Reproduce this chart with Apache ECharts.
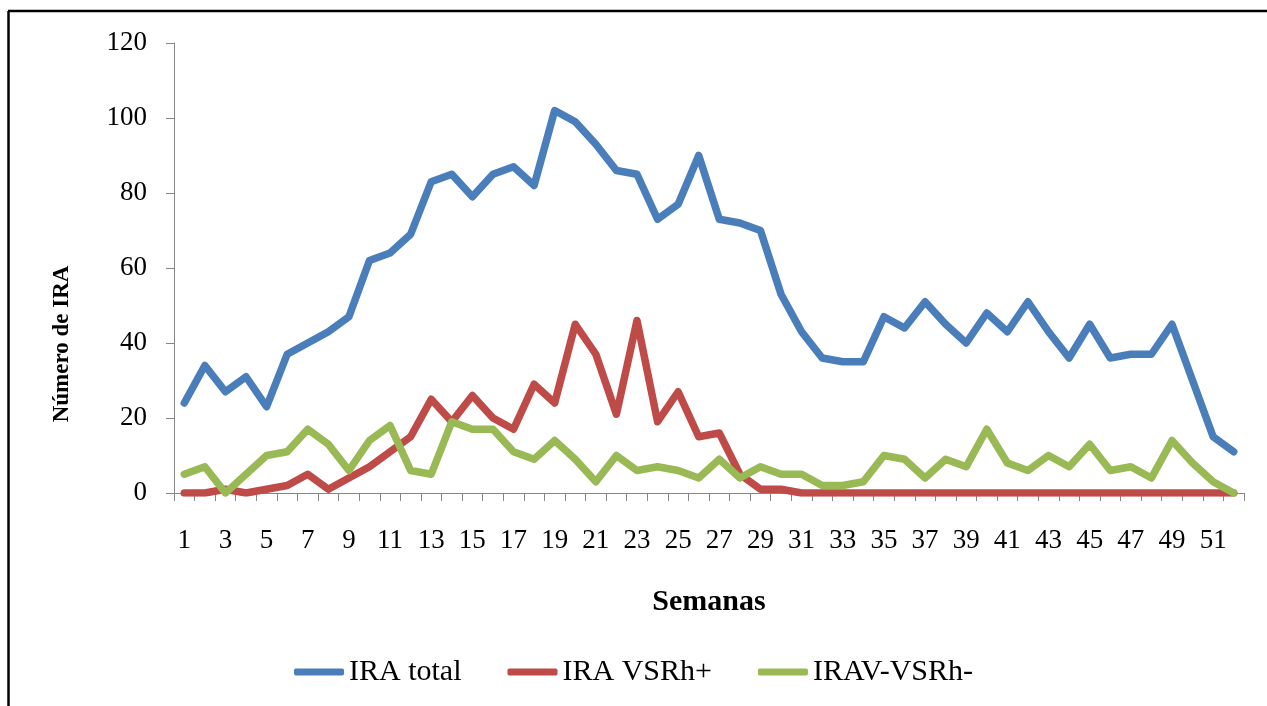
<!DOCTYPE html>
<html>
<head>
<meta charset="utf-8">
<script src="https://cdn.jsdelivr.net/npm/echarts@6/dist/echarts.min.js"></script>
<style>
html,body{margin:0;padding:0;background:#fff;}
#c{width:1267px;height:706px;}
</style>
</head>
<body>
<div id="c"></div>
<script>
var weeks = [];
for (var i = 1; i <= 52; i++) weeks.push(String(i));

var iraTotal = [24,34,27,31,23,37,40,43,47,62,64,69,83,85,79,85,87,82,102,99,
                93,86,85,73,77,90,73,72,70,53,43,36,35,35,47,44,51,45,40,48,
                43,51,43,36,45,36,37,37,45,30,15,11];
var iraVSRhPos = [0,0,1,0,1,2,5,1,4,7,11,15,25,19,26,20,17,29,24,45,
                  37,21,46,19,27,15,16,5,1,1,0,0,0,0,0,0,0,0,0,0,
                  0,0,0,0,0,0,0,0,0,0,0,0];
var iravVSRhNeg = [5,7,0,5,10,11,17,13,6,14,18,6,5,19,17,17,11,9,14,9,
                   3,10,6,7,6,4,9,4,7,5,5,2,2,3,10,9,4,9,7,17,
                   8,6,10,7,13,6,7,4,14,8,3,0];
var seriesNames = ['IRA total', 'IRA VSRh+', 'IRAV-VSRh-'];
var yTicks = [0, 20, 40, 60, 80, 100, 120];

var serif = '"Liberation Serif", "Times New Roman", serif';
var chart = echarts.init(document.getElementById('c'));

function lineSeries(name, data, color) {
  return {
    name: name, type: 'line', data: data, symbol: 'none',
    lineStyle: {width: 7.5, color: color, join: 'round', cap: 'round'},
    itemStyle: {color: color}
  };
}

chart.setOption({
  animation: false,
  backgroundColor: '#fff',
  grid: {left: 174, right: 23, top: 43, bottom: 213, containLabel: false},
  graphic: [
    {type: 'line', shape: {x1: 8, y1: 11, x2: 1267, y2: 11}, style: {stroke: '#000', lineWidth: 2.5}},
    {type: 'line', shape: {x1: 8.5, y1: 11, x2: 8.5, y2: 706}, style: {stroke: '#000', lineWidth: 2.5}},
    {type: 'text', x: 62, y: 344, rotation: Math.PI / 2,
     style: {text: 'Número de IRA', font: 'bold 23px ' + serif, fill: '#000',
             align: 'center', verticalAlign: 'middle'}}
  ],
  legend: {
    bottom: 14, left: 'center',
    itemWidth: 50, itemHeight: 7, itemGap: 46,
    icon: 'roundRect',
    textStyle: {fontFamily: serif, fontSize: 30, color: '#000'},
    data: seriesNames
  },
  xAxis: {
    type: 'category', data: weeks, boundaryGap: true,
    name: 'Semanas', nameLocation: 'middle', nameGap: 94,
    nameTextStyle: {fontFamily: serif, fontSize: 30, fontWeight: 'bold', color: '#000'},
    axisLine: {lineStyle: {color: '#868686', width: 1}},
    axisTick: {show: true, interval: 0, length: 8, lineStyle: {color: '#868686'}},
    axisLabel: {interval: 1, margin: 34, fontFamily: serif, fontSize: 27, color: '#000'},
    splitLine: {show: false}
  },
  yAxis: {
    type: 'value', min: 0, max: 120, interval: 20,
    axisLine: {show: true, lineStyle: {color: '#868686', width: 1}},
    axisTick: {show: true, length: 8, lineStyle: {color: '#868686'}},
    axisLabel: {margin: 27, fontFamily: serif, fontSize: 27, color: '#000',
                formatter: function (v) { return yTicks.indexOf(v) >= 0 ? String(v) : ''; }},
    splitLine: {show: false}
  },
  series: [
    lineSeries(seriesNames[0], iraTotal, '#4a7ebb'),
    lineSeries(seriesNames[1], iraVSRhPos, '#be4b48'),
    lineSeries(seriesNames[2], iravVSRhNeg, '#98b954')
  ]
});
</script>
</body>
</html>
